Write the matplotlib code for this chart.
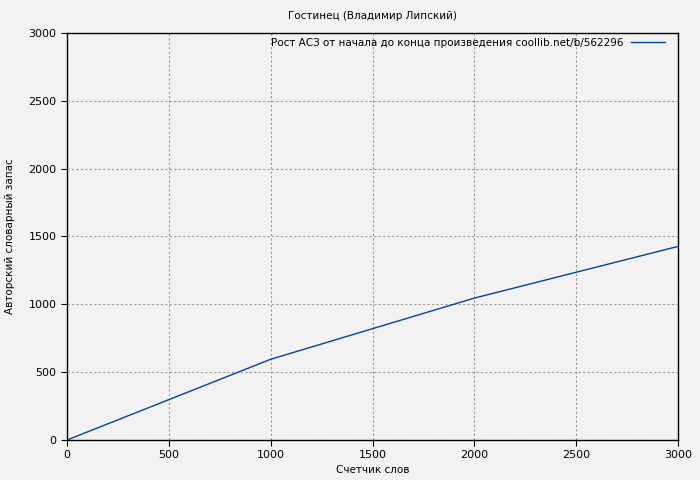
import matplotlib
matplotlib.use("Agg")
import matplotlib.pyplot as plt

words = [0, 1000, 2000, 3000]
vocab = [0, 595, 1046, 1427]
xticks = [0, 500, 1000, 1500, 2000, 2500, 3000]
yticks = [0, 500, 1000, 1500, 2000, 2500, 3000]

fig = plt.figure(figsize=(7, 4.8), dpi=100, facecolor="#f2f2f2")
ax = fig.add_axes([0.0957, 0.0833, 0.8729, 0.848])
ax.set_facecolor("#f2f2f2")
ax.plot(words, vocab, color="#0044aa", lw=1,
        label="Рост АСЗ от начала до конца произведения coollib.net/b/562296")
ax.set_xlim(0, 3000)
ax.set_ylim(0, 3000)
ax.set_xticks(xticks)
ax.set_yticks(yticks)
ax.grid(True, color="#999999", linestyle=(0, (2, 2)), lw=0.8)
ax.tick_params(direction="out", length=4, labelsize=8, colors="black")
for s in ax.spines.values():
    s.set_color("black")
    s.set_linewidth(1)
ax.set_title("Гостинец (Владимир Липский)", fontsize=7.5, pad=10)
ax.set_xlabel("Счетчик слов", fontsize=7.5, labelpad=3)
ax.set_ylabel("Авторский словарный запас", fontsize=7.5, labelpad=10)
leg = ax.legend(loc="upper right", frameon=False, fontsize=7.5, markerfirst=False,
                handlelength=3.2, borderaxespad=0, bbox_to_anchor=(0.985, 0.998))
fig.savefig("out.png", dpi=100, facecolor=fig.get_facecolor())
